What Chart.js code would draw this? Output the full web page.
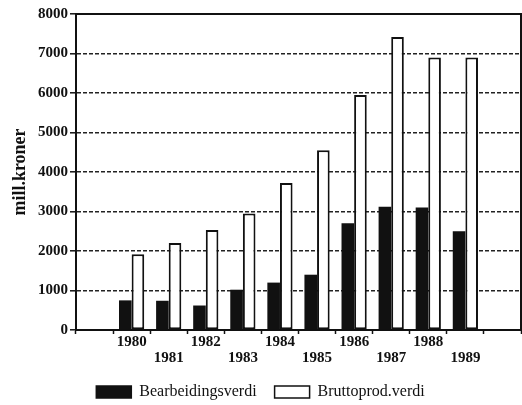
<!DOCTYPE html>
<html>
<head>
<meta charset="utf-8">
<script src="https://cdn.jsdelivr.net/npm/chart.js@4"></script>
<style>
  html, body { margin: 0; padding: 0; background: #fff; }
  #wrap { width: 522px; height: 405px; }
</style>
</head>
<body>
<div id="wrap"><canvas id="chart" width="522" height="405"></canvas></div>
<script>
const years = ['', '1980', '1981', '1982', '1983', '1984', '1985', '1986', '1987', '1988', '1989', ''];
const bearbeidingsverdi = [null, 750, 740, 620, 1020, 1200, 1400, 2700, 3120, 3100, 2500, null];
const bruttoprodVerdi = [null, 1920, 2200, 2530, 2950, 3720, 4550, 5950, 7420, 6900, 6900, null];
const yTicks = [0, 1000, 2000, 3000, 4000, 5000, 6000, 7000, 8000];

const serif = "'Liberation Serif', 'Times New Roman', serif";
const ink = '#111';

// solid frame on top and right of the plot
const framePlugin = {
  id: 'frame',
  afterDatasetsDraw(chart) {
    const { ctx, chartArea: a } = chart;
    ctx.save();
    ctx.strokeStyle = ink;
    ctx.lineWidth = 2;
    ctx.beginPath();
    ctx.moveTo(a.left, a.top);
    ctx.lineTo(a.right, a.top);
    ctx.lineTo(a.right, a.bottom);
    ctx.stroke();
    ctx.restore();
  }
};

new Chart(document.getElementById('chart'), {
  type: 'bar',
  data: {
    labels: years,
    datasets: [
      {
        label: 'Bearbeidingsverdi',
        data: bearbeidingsverdi,
        backgroundColor: ink,
        borderColor: ink,
        borderWidth: 0,
        categoryPercentage: 0.68,
        barPercentage: 1.0
      },
      {
        label: 'Bruttoprod.verdi',
        data: bruttoprodVerdi,
        backgroundColor: '#fff',
        borderColor: ink,
        borderWidth: 2,
        borderSkipped: false,
        categoryPercentage: 0.68,
        barPercentage: 1.0
      }
    ]
  },
  options: {
    responsive: false,
    animation: false,
    layout: { padding: { top: 14, right: 1, left: 0, bottom: -5 } },
    plugins: {
      tooltip: { enabled: false },
      legend: {
        position: 'bottom',
        labels: {
          color: ink,
          font: { family: serif, size: 16, lineHeight: 1 },
          boxWidth: 35,
          boxHeight: 12,
          padding: 18,
          generateLabels: (chart) => chart.data.datasets.map((ds, i) => ({
            text: ds.label,
            fillStyle: ds.backgroundColor,
            strokeStyle: ink,
            lineWidth: 1.5,
            datasetIndex: i,
            fontColor: ink
          }))
        }
      }
    },
    scales: {
      x: {
        offset: true,
        grid: {
          display: true,
          offset: true,
          drawOnChartArea: false,
          drawTicks: true,
          tickLength: 4,
          tickColor: ink,
          tickWidth: 1.5
        },
        border: { display: true, color: ink, width: 2 },
        ticks: {
          color: ink,
          padding: 0,
          maxRotation: 0,
          autoSkip: false,
          font: { family: serif, size: 15, weight: 'bold', lineHeight: '16px' },
          callback: function (value, index) {
            const y = years[index];
            if (!y) return '';
            return Number(y) % 2 === 0 ? [y, ''] : ['', y];
          }
        }
      },
      y: {
        min: 0,
        max: 8000,
        afterBuildTicks: (scale) => {
          scale.ticks = yTicks.map((v) => ({ value: v }));
        },
        afterFit: (scale) => { scale.width = 76; },
        grid: {
          color: (c) => (c.tick && (c.tick.value === 0 || c.tick.value === 8000) ? 'rgba(0,0,0,0)' : '#222'),
          lineWidth: 1.6,
          drawTicks: true,
          tickLength: 6,
          tickColor: ink,
          tickWidth: 1.5
        },
        border: { display: true, color: ink, width: 2, dash: [4, 2] },
        ticks: {
          color: ink,
          padding: 2,
          font: { family: serif, size: 15, weight: 'bold' },
          callback: (value) => String(value)
        },
        title: {
          display: true,
          text: 'mill.kroner',
          color: ink,
          padding: { top: 10, bottom: 0 },
          font: { family: serif, size: 18, weight: 'bold' }
        }
      }
    }
  },
  plugins: [framePlugin]
});
</script>
</body>
</html>
